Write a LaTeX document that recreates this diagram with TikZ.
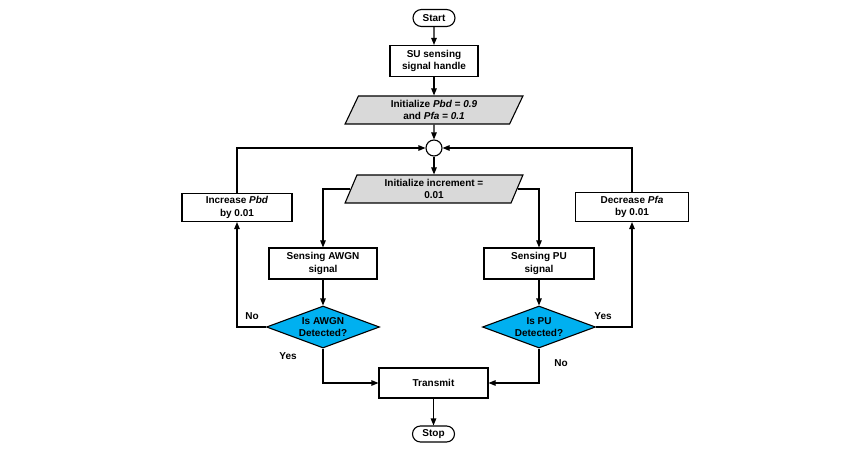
\documentclass[tikz,border=0pt]{standalone}
\usepackage{fontspec}
\setmainfont{Liberation Sans}
\usetikzlibrary{arrows.meta,shapes.geometric,shapes.misc}
\definecolor{parafill}{RGB}{217,217,217}
\definecolor{decfill}{RGB}{0,176,240}
\begin{document}
\begin{tikzpicture}[x=1pt,y=-1pt,
  every node/.style={font=\fontsize{10}{12.5}\selectfont\bfseries, align=center},
  lw/.style={line width=1.1pt},
  term/.style={lw, draw, rounded rectangle, minimum width=42pt, minimum height=17pt, inner sep=0pt},
  procbox/.style={lw, draw, rectangle, inner sep=0pt},
  iobox/.style={lw, draw, fill=parafill, trapezium, trapezium stretches=true, trapezium left angle=69, trapezium right angle=111, minimum width=178pt, minimum height=28pt, inner sep=0pt},
  decbox/.style={lw, draw, fill=decfill, diamond, minimum width=113pt, minimum height=42pt, inner sep=-8pt},
  joint/.style={lw, draw, fill=white, circle, minimum size=16pt, inner sep=0pt},
  lbl/.style={inner sep=0pt},
  flow/.style={lw, -{Triangle[length=7pt,width=5.5pt]}}
]
\useasboundingbox (0,0) rectangle (851,454);

\node[term] (start) at (434,18) {Start};
\node[procbox, minimum width=88pt, minimum height=31pt] (su) at (434,61) {SU sensing\\signal handle};
\node[iobox] (init) at (434,110) {Initialize \textit{Pbd = 0.9}\\and \textit{Pfa = 0.1}};
\node[joint] (j) at (434,148) {};
\node[iobox] (inc) at (434,189) {Initialize increment =\\0.01};
\node[procbox, minimum width=110pt, minimum height=28pt] (ipbd) at (237,207.5) {Increase \textit{Pbd}\\by 0.01};
\node[procbox, minimum width=113pt, minimum height=29pt] (dpfa) at (632,207) {Decrease \textit{Pfa}\\by 0.01};
\node[procbox, minimum width=108pt, minimum height=31pt] (aw) at (323,263.5) {Sensing AWGN\\signal};
\node[procbox, minimum width=110pt, minimum height=31pt] (pu) at (539,263.5) {Sensing PU\\signal};
\node[decbox] (daw) at (323,327) {Is AWGN\\Detected?};
\node[decbox] (dpu) at (539,327) {Is PU\\Detected?};
\node[procbox, minimum width=109pt, minimum height=30pt] (tx) at (433.5,383) {Transmit};
\node[term, minimum height=16pt] (stop) at (433.5,434) {Stop};

\node[lbl] (no1) at (252,316) {No};
\node[lbl] (yes1) at (288,356) {Yes};
\node[lbl] (yes2) at (603,316) {Yes};
\node[lbl] (no2) at (561,363) {No};

\draw[flow] (start) -- (su);
\draw[flow] (su) -- (init);
\draw[flow] (init) -- (j);
\draw[flow] (j) -- (inc);
\draw[flow] (inc.left side) -| (aw.north);
\draw[flow] (inc.right side) -| (pu.north);
\draw[flow] (aw) -- (daw);
\draw[flow] (pu) -- (dpu);
\draw[flow] (daw.west) -| (ipbd.south);
\draw[flow] (dpu.east) -| (dpfa.south);
\draw[flow] (ipbd.north) |- (j.west);
\draw[flow] (dpfa.north) |- (j.east);
\draw[flow] (daw.south) |- (tx.west);
\draw[flow] (dpu.south) |- (tx.east);
\draw[flow] (tx) -- (stop);
\end{tikzpicture}
\end{document}
